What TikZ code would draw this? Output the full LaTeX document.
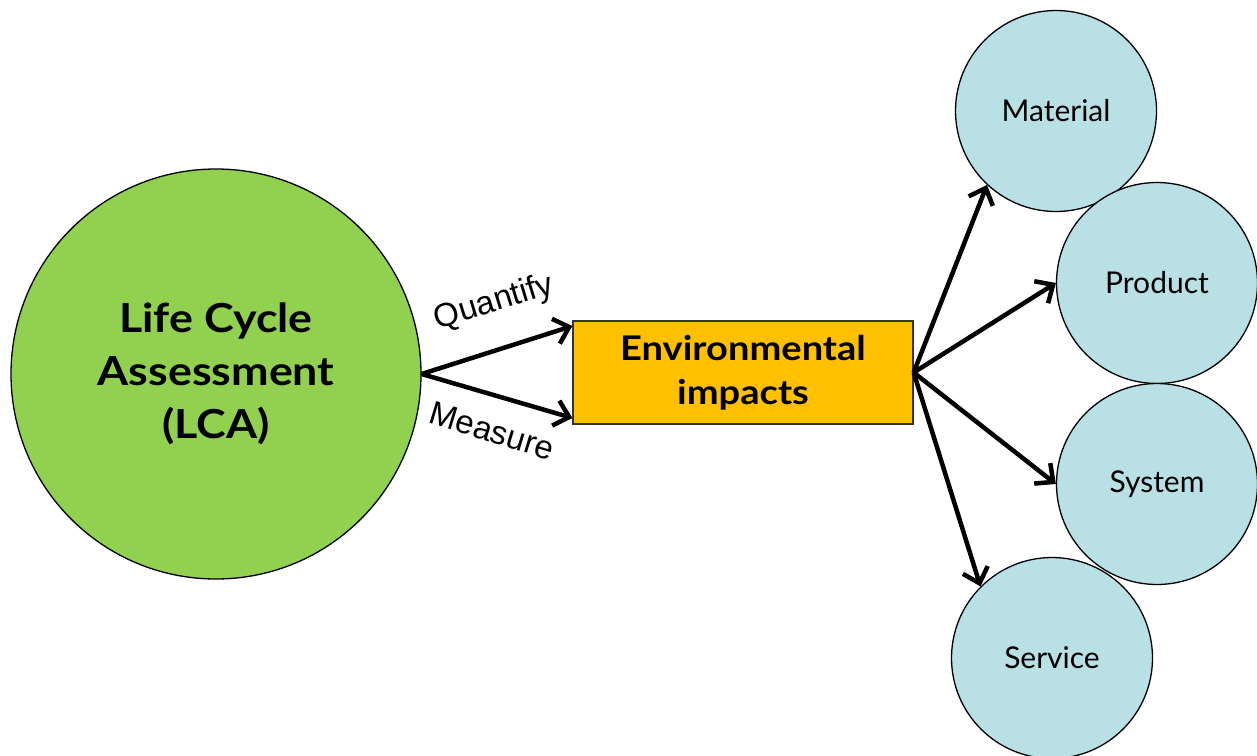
\documentclass[tikz,border=0pt]{standalone}
\usepackage{fontspec}
\setmainfont{Lato}
\newfontfamily\widefont[FakeStretch=1.12]{Lato}
\newfontfamily\arialfont{Liberation Sans}
\usetikzlibrary{arrows.meta,calc}
\definecolor{lcagreen}{HTML}{92D050}
\definecolor{envorange}{HTML}{FFC000}
\definecolor{scopeblue}{HTML}{B9E0E5}
\begin{document}
\begin{tikzpicture}[x=1pt,y=-1pt,
  bigcirc/.style={circle,draw=black,line width=1.3pt,fill=lcagreen,minimum size=410pt,inner sep=0pt,align=center,
    font=\widefont\fontsize{40}{53}\selectfont\bfseries},
  envbox/.style={rectangle,draw=black!80,line width=1.3pt,fill=envorange,minimum width=340pt,minimum height=103pt,inner sep=0pt,align=center,
    font=\widefont\fontsize{34}{44}\selectfont\bfseries},
  scopecirc/.style={circle,draw=black,line width=1.3pt,fill=scopeblue,minimum size=201pt,inner sep=0pt,
    font=\fontsize{30}{34}\selectfont},
  flow/.style={line width=4.5pt,-{Straight Barb[length=14pt,width=26pt,line width=4.5pt]}},
  verb/.style={font=\arialfont\fontsize{33}{38}\selectfont,inner sep=0pt}
]
\useasboundingbox (0,0) rectangle (1257,755);
\node[bigcirc] (lca) at (216,374) {Life Cycle\\Assessment\\(LCA)};
\node[envbox] (env) at (743,372.5) {Environmental\\impacts};
\node[scopecirc] (mat) at (1056,111) {Material};
\node[scopecirc] (prod) at (1157,283) {Product};
\node[scopecirc] (sys) at (1157,484) {System};
\node[scopecirc] (serv) at (1052,658) {Service};

\draw[flow] (lca.east) -- ([yshift=46.5pt]env.west);
\draw[flow] (lca.east) -- ([yshift=-45.5pt]env.west);
\node[verb,rotate=17] (q) at (494,303) {Quantify};
\node[verb,rotate=-17] (m) at (492,431) {Measure};

\draw[flow] (env.east) -- (mat.227);
\draw[flow] (env.east) -- (prod.west);
\draw[flow] (env.east) -- (sys.west);
\draw[flow] (env.east) -- (serv.135);
\end{tikzpicture}
\end{document}
